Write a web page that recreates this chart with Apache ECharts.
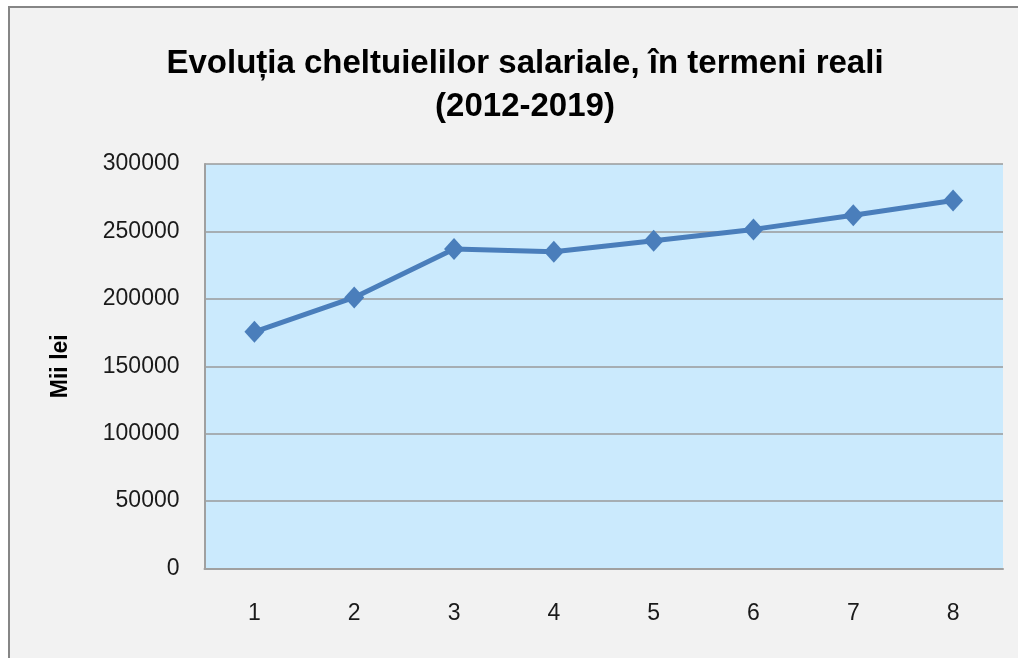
<!DOCTYPE html>
<html>
<head>
<meta charset="utf-8">
<script src="https://cdn.jsdelivr.net/npm/echarts@6/dist/echarts.min.js"></script>
<style>
  html, body { margin: 0; padding: 0; background: #ffffff; overflow: hidden; }
  #chart { width: 1018px; height: 658px; }
</style>
</head>
<body>
<div id="chart"></div>
<script>
// categorii (ani 2012-2019 numerotati 1..8)
var categories = ['1', '2', '3', '4', '5', '6', '7', '8'];
// cheltuieli salariale, mii lei
var values = [175500, 201000, 237000, 235000, 243000, 251500, 262000, 273000];
var yTicks = [0, 50000, 100000, 150000, 200000, 250000, 300000];

var chart = echarts.init(document.getElementById('chart'));

var option = {
  backgroundColor: '#ffffff',
  animation: false,
  graphic: [{
    type: 'rect',
    z: -10,
    silent: true,
    shape: { x: 9, y: 7, width: 1020, height: 660 },
    style: { fill: '#f2f2f2' }
  }, {
    type: 'polyline',
    z: -9,
    silent: true,
    shape: { points: [[9, 670], [9, 7], [1040, 7]] },
    style: { stroke: '#868686', lineWidth: 2, fill: null }
  }],
  title: {
    text: 'Evoluția cheltuielilor salariale, în termeni reali\n(2012-2019)',
    left: 520,
    top: 37,
    textAlign: 'center',
    textStyle: {
      fontFamily: '"Liberation Sans", sans-serif',
      fontWeight: 'bold',
      fontSize: 33,
      lineHeight: 43,
      color: '#000000'
    }
  },
  grid: {
    left: 204.5,
    right: 15,
    top: 164,
    bottom: 89.5,
    show: true,
    backgroundColor: '#cbeafd',
    borderWidth: 0
  },
  xAxis: {
    type: 'category',
    data: categories,
    boundaryGap: true,
    axisLine: { lineStyle: { color: '#a0a0a0', width: 2 } },
    axisTick: { show: false },
    axisLabel: {
      margin: 34,
      fontFamily: '"Liberation Sans", sans-serif',
      fontSize: 23,
      color: '#1a1a1a'
    }
  },
  yAxis: {
    type: 'value',
    min: yTicks[0],
    max: yTicks[yTicks.length - 1],
    interval: 50000,
    name: 'Mii lei',
    nameLocation: 'middle',
    nameGap: 132,
    nameRotate: 90,
    nameTextStyle: {
      fontFamily: '"Liberation Sans", sans-serif',
      fontWeight: 'bold',
      fontSize: 23,
      color: '#000000'
    },
    axisLine: { show: true, lineStyle: { color: '#a0a0a0', width: 2 } },
    axisTick: { show: false },
    splitLine: { lineStyle: { color: '#9a9a9a', width: 1.5 } },
    axisLabel: {
      margin: 25,
      formatter: function (v) { return String(v); },
      fontFamily: '"Liberation Sans", sans-serif',
      fontSize: 23,
      color: '#1a1a1a'
    }
  },
  series: [{
    type: 'line',
    data: values,
    symbol: 'diamond',
    symbolSize: [20, 22],
    lineStyle: { color: '#4a7ebb', width: 5 },
    itemStyle: { color: '#4a7ebb' }
  }]
};

chart.setOption(option);
</script>
</body>
</html>
